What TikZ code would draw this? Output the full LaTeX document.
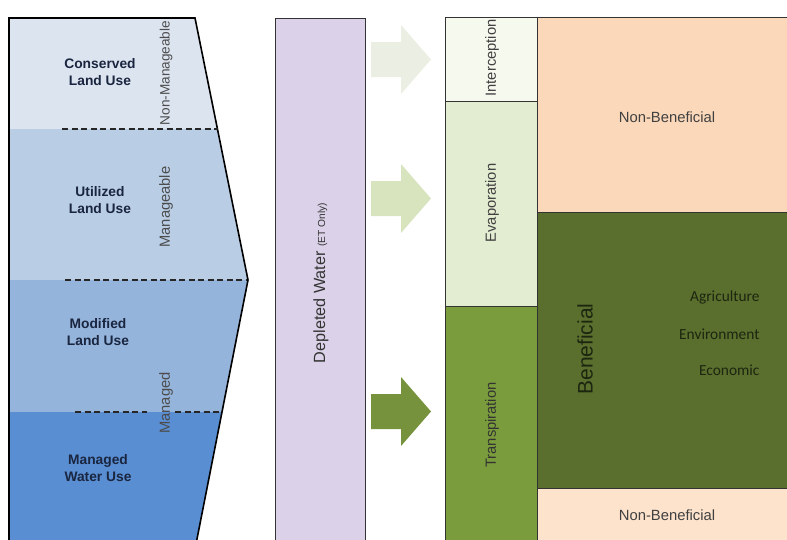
\documentclass[tikz,border=0pt]{standalone}
\usepackage{fontspec}
\setmainfont{Liberation Sans}
\newfontfamily\calib{Carlito}
\definecolor{bandA}{HTML}{DCE4F0}
\definecolor{bandB}{HTML}{B9CDE5}
\definecolor{bandC}{HTML}{95B4DB}
\definecolor{bandD}{HTML}{5A8ED2}
\definecolor{navytxt}{HTML}{1A2640}
\definecolor{lav}{HTML}{DBD2E9}
\definecolor{arrA}{HTML}{EBEEE2}
\definecolor{arrB}{HTML}{D8E4BE}
\definecolor{arrC}{HTML}{76923C}
\definecolor{interc}{HTML}{F5F9EE}
\definecolor{evap}{HTML}{E3EDD2}
\definecolor{transp}{HTML}{7A9C3C}
\definecolor{benef}{HTML}{5A6E2D}
\definecolor{peach}{HTML}{FBD8BA}
\definecolor{peachlt}{HTML}{FDE2CC}
\definecolor{darkgreentxt}{HTML}{1C2610}
\begin{document}
\begin{tikzpicture}[x=1pt,y=-1pt,
  box/.style={draw=black!80, line width=1.1pt, anchor=north west, inner sep=0pt},
  rotlbl/.style={rotate=90, font=\fontsize{14.7}{17}\selectfont, text=black!70},
  bandlbl/.style={font=\bfseries\fontsize{13.8}{16.2}\selectfont, text=navytxt, align=center},
  dashln/.style={dash pattern=on 6pt off 3.5pt, line width=1.3pt, black!85},
  sublbl/.style={anchor=east, font=\calib\fontsize{15.4}{17}\selectfont, text=darkgreentxt},
  nblbl/.style={font=\fontsize{14.8}{17}\selectfont, text=black!75}]
\useasboundingbox (0,0) rectangle (787,539);
% left funnel
\begin{scope}
\clip (9,18) -- (195,18) -- (248,280) -- (195.8,545) -- (9,545) -- cycle;
\fill[bandA] (0,0) rectangle (260,129);
\fill[bandB] (0,129) rectangle (260,280);
\fill[bandC] (0,280) rectangle (260,412);
\fill[bandD] (0,412) rectangle (260,545);
\end{scope}
\draw[line width=1.6pt, line join=miter] (9,545) -- (9,18) -- (195,18) -- (248,280) -- (195.8,545);
\draw[dashln] (62,129) -- (217.5,129);
\draw[dashln] (65,280) -- (247,280);
\draw[dashln] (75,412) -- (147,412);
\draw[dashln] (175,412) -- (221.5,412);
\node[bandlbl] (cons) at (100,72) {Conserved\\Land Use};
\node[bandlbl] (util) at (100,200) {Utilized\\Land Use};
\node[bandlbl] (modi) at (98,332) {Modified\\Land Use};
\node[bandlbl] (mwat) at (98,468) {Managed\\Water Use};
\node[rotlbl, font=\fontsize{13.6}{16}\selectfont] (nman) at (166,73) {Non-Manageable};
\node[rotlbl] (man) at (166,207) {Manageable};
\node[rotlbl] (mgd) at (166,403) {Managed};
% depleted water column
\node[box, fill=lav, minimum width=90pt, minimum height=540pt] (dep) at (275,18) {};
\node[rotate=90, font=\fontsize{16.2}{19}\selectfont, text=black!80] (deptxt) at (321,283) {Depleted Water {\fontsize{10.2}{12}\selectfont (ET Only)}};
% arrows
\fill[arrA] (371,42) -- (401,42) -- (401,25) -- (431,59.5) -- (401,94) -- (401,77) -- (371,77) -- cycle;
\fill[arrB] (371,181) -- (401,181) -- (401,164) -- (431,198.5) -- (401,233) -- (401,216) -- (371,216) -- cycle;
\fill[arrC] (371,394) -- (401,394) -- (401,377) -- (431,411.5) -- (401,446) -- (401,429) -- (371,429) -- cycle;
% right column
\node[box, fill=interc, minimum width=92pt, minimum height=84pt] (inter) at (445,17) {};
\node[box, fill=evap, minimum width=92pt, minimum height=205pt] (evap) at (445,101) {};
\node[box, fill=transp, minimum width=92pt, minimum height=240pt] (trans) at (445,306) {};
\node[rotlbl, text=black!75] (intertxt) at (492,58) {Interception};
\node[rotlbl, text=black!75] (evaptxt) at (492,203) {Evaporation};
\node[rotlbl, text=black!80] (transtxt) at (492,425) {Transpiration};
\node[box, fill=peach, minimum width=270pt, minimum height=195pt] (nb1) at (537,17) {};
\node[box, fill=benef, minimum width=270pt, minimum height=276pt] (ben) at (537,212) {};
\node[box, fill=peachlt, minimum width=270pt, minimum height=60pt] (nb2) at (537,488) {};
\node[nblbl] (nb1txt) at (667,117) {Non-Beneficial};
\node[nblbl] (nb2txt) at (667,515) {Non-Beneficial};
\node[rotate=90, font=\fontsize{21}{23}\selectfont, text=darkgreentxt] (bentxt) at (585,349) {Beneficial};
\node[sublbl] (agr) at (763,297) {Agriculture};
\node[sublbl] (env) at (763,334) {Environment};
\node[sublbl] (eco) at (763,370) {Economic};
\end{tikzpicture}
\end{document}
